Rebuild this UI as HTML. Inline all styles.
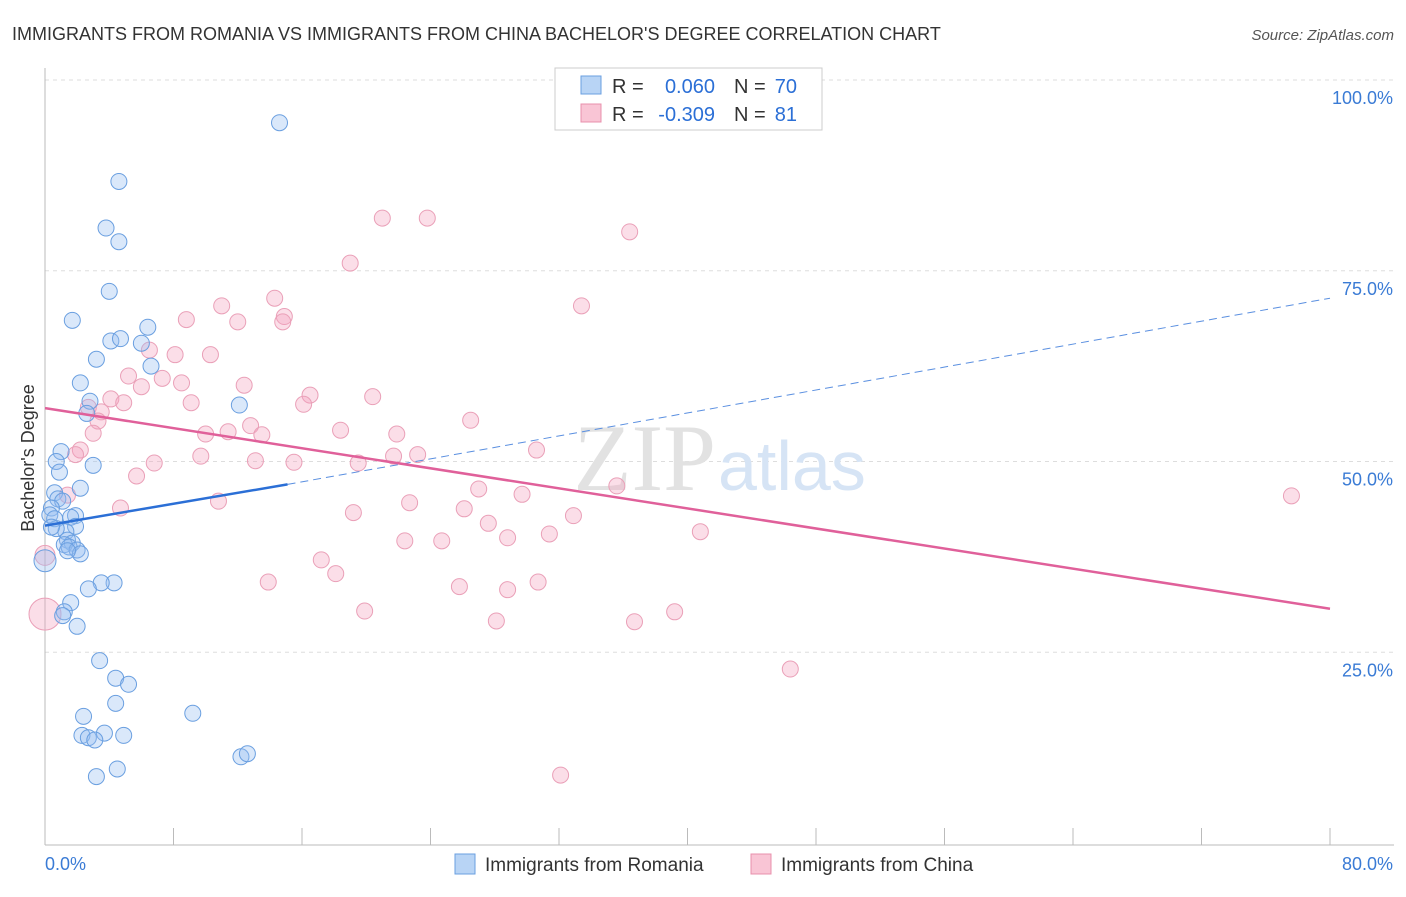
<!DOCTYPE html>
<html><head><meta charset="utf-8"><style>
body{margin:0;background:#fff;font-family:"Liberation Sans",sans-serif}
</style></head><body>
<svg width="1406" height="892" xmlns="http://www.w3.org/2000/svg">
<text x="12" y="40" font-size="18" fill="#333">IMMIGRANTS FROM ROMANIA VS IMMIGRANTS FROM CHINA BACHELOR'S DEGREE CORRELATION CHART</text>
<text x="1394" y="40" font-size="15" fill="#555" text-anchor="end" font-style="italic">Source: ZipAtlas.com</text>
<g id="grid"></g>
<text x="716" y="490" font-size="95" fill="#e2e2e2" text-anchor="end" font-family="Liberation Serif">ZIP</text>
<text x="718" y="490" font-size="70" fill="#d6e4f5">atlas</text>
<text x="34" y="458" font-size="18" fill="#333" text-anchor="middle" transform="rotate(-90 34 458)">Bachelor's Degree</text>
<g id="marks"></g>
<g>
<rect x="555" y="68" width="267" height="62" fill="#fff" stroke="#ccc"/>
<rect x="581" y="76" width="20" height="18" fill="#b8d4f5" stroke="#6a9fe0"/>
<rect x="581" y="104" width="20" height="18" fill="#f9c5d5" stroke="#e890ac"/>
<text x="612" y="93" font-size="20" fill="#333">R =</text>
<text x="715" y="93" font-size="20" fill="#2b6fd6" text-anchor="end">0.060</text>
<text x="734" y="93" font-size="20" fill="#333">N =</text>
<text x="797" y="93" font-size="20" fill="#2b6fd6" text-anchor="end">70</text>
<text x="612" y="121" font-size="20" fill="#333">R =</text>
<text x="715" y="121" font-size="20" fill="#2b6fd6" text-anchor="end">-0.309</text>
<text x="734" y="121" font-size="20" fill="#333">N =</text>
<text x="797" y="121" font-size="20" fill="#2b6fd6" text-anchor="end">81</text>
</g>
<g>
<rect x="455" y="854" width="20" height="20" fill="#b8d4f5" stroke="#6a9fe0"/>
<text x="485" y="871" font-size="19" fill="#333">Immigrants from Romania</text>
<rect x="751" y="854" width="20" height="20" fill="#f9c5d5" stroke="#e890ac"/>
<text x="781" y="871" font-size="19" fill="#333">Immigrants from China</text>
</g>
</svg>
<script>
const yTicks=[25,50,75,100];
const yTickLabels=["25.0%","50.0%","75.0%","100.0%"];
const blueX=[14.6,4.6,3.8,4.6,4.0,1.7,6.4,4.1,4.7,6.0,3.2,6.6,2.2,12.1,2.8,2.6,1.0,0.7,0.9,3.0,2.2,0.6,0.8,1.1,0.4,0.3,1.9,0.6,1.6,1.9,1.3,0.7,0.4,1.4,1.7,1.2,1.5,2.0,2.2,1.4,0.0,4.3,3.5,2.7,1.6,1.2,1.1,2.0,3.4,4.4,5.2,4.4,9.2,2.4,2.3,3.7,4.9,2.7,3.1,3.2,4.5,12.2,12.6];
const blueY=[94.4,86.7,80.6,78.8,72.3,68.5,67.6,65.8,66.1,65.5,63.4,62.5,60.3,57.4,57.9,56.3,51.3,50.0,48.6,49.5,46.5,45.9,45.1,44.8,43.9,43.0,42.9,42.5,42.7,41.5,40.8,41.2,41.4,39.7,39.3,39.1,38.8,38.4,37.9,38.3,37.0,34.1,34.1,33.3,31.5,30.3,29.8,28.4,23.9,21.6,20.8,18.3,17.0,16.6,14.1,14.4,14.1,13.8,13.5,8.7,9.7,11.3,11.7];
const pinkX=[21.0,23.8,36.4,19.0,14.3,11.0,33.4,14.9,8.8,12.0,14.8,6.5,8.1,10.3,5.2,7.3,8.5,12.4,6.0,16.5,20.4,4.1,4.9,9.1,16.1,2.7,3.5,26.5,3.3,3.0,12.8,10.0,11.4,13.5,18.4,21.9,30.6,2.2,1.9,9.7,21.7,23.2,6.8,13.1,15.5,19.5,5.7,35.6,1.4,27.0,29.7,10.8,22.7,4.7,26.1,19.2,32.9,27.6,40.8,31.4,22.4,24.7,28.8,17.2,18.1,13.9,25.8,30.7,28.8,19.9,39.2,28.1,36.7,46.4,32.1,77.6,0.0,0.0];
const pinkY=[81.9,81.9,80.1,76.0,71.4,70.4,70.4,69.0,68.6,68.3,68.3,64.6,64.0,64.0,61.2,60.9,60.3,60.0,59.8,58.7,58.5,58.2,57.7,57.7,57.5,57.1,56.5,55.4,55.3,53.7,54.7,53.6,53.9,53.5,54.1,53.6,51.5,51.5,50.9,50.7,50.7,50.9,49.8,50.1,49.9,49.8,48.1,46.8,45.6,46.4,45.7,44.8,44.6,43.9,43.8,43.3,42.9,41.9,40.8,40.5,39.6,39.6,40.0,37.1,35.3,34.2,33.6,34.2,33.2,30.4,30.3,29.1,29.0,22.8,8.9,45.5,30.0,37.7];
const blueTrend=[0,41.6,15.1,47.0,80,71.4];
const pinkTrend=[0,57.0,80,30.7];
const ns="http://www.w3.org/2000/svg";
const X=v=>45+v/80*1285, Y=v=>843-v/100*763;
const grid=document.getElementById('grid'), marks=document.getElementById('marks');
function mk(tag,at,par){const e=document.createElementNS(ns,tag);for(const k in at)e.setAttribute(k,at[k]);par.appendChild(e);return e;}
yTicks.forEach((t,i)=>{
 const l=mk('line',{x1:45,x2:1394,y1:Y(t),y2:Y(t),stroke:'#ddd','stroke-dasharray':'4,4'},grid);
 
 
 const tx=mk('text',{x:1393,y:Y(t)+24,'font-size':18,fill:'#3a7bd5','text-anchor':'end'},grid);
 tx.textContent=yTickLabels[i];
 
 
});
mk('line',{x1:45,x2:45,y1:68,y2:845,stroke:'#bbb'},grid);
mk('line',{x1:45,x2:1394,y1:845,y2:845,stroke:'#bbb'},grid);
for(let i=0;i<=10;i++){const t=mk('line',{x1:X(i*8),x2:X(i*8),y1:828,y2:845,stroke:'#bbb'},grid);}
const x0=mk('text',{x:45,y:870,'font-size':18,fill:'#3a7bd5'},grid);x0.textContent='0.0%';


const x1=mk('text',{x:1393,y:870,'font-size':18,fill:'#3a7bd5','text-anchor':'end'},grid);x1.textContent='80.0%';


pinkX.forEach((v,i)=>{const c=mk('circle',{cx:X(v),cy:Y(pinkY[i]),r:(i>=pinkX.length-2)?(i==pinkX.length-2?16:10):8,fill:'rgba(244,160,188,0.35)',stroke:'#eaa0b8','stroke-width':1},marks);
 
 });
blueX.forEach((v,i)=>{const c=mk('circle',{cx:X(v),cy:Y(blueY[i]),r:v===0?11:8,fill:'rgba(150,190,240,0.35)',stroke:'#6a9fe0','stroke-width':1},marks);
 
 });
let l=mk('line',{x1:X(blueTrend[0]),y1:Y(blueTrend[1]),x2:X(blueTrend[2]),y2:Y(blueTrend[3]),stroke:'#2b6fd6','stroke-width':2.5},marks);


l=mk('line',{x1:X(blueTrend[2]),y1:Y(blueTrend[3]),x2:X(blueTrend[4]),y2:Y(blueTrend[5]),stroke:'#5a8fe0','stroke-width':1,'stroke-dasharray':'8,5'},marks);


l=mk('line',{x1:X(pinkTrend[0]),y1:Y(pinkTrend[1]),x2:X(pinkTrend[2]),y2:Y(pinkTrend[3]),stroke:'#e0609a','stroke-width':2.5},marks);


</script>
</body></html>
